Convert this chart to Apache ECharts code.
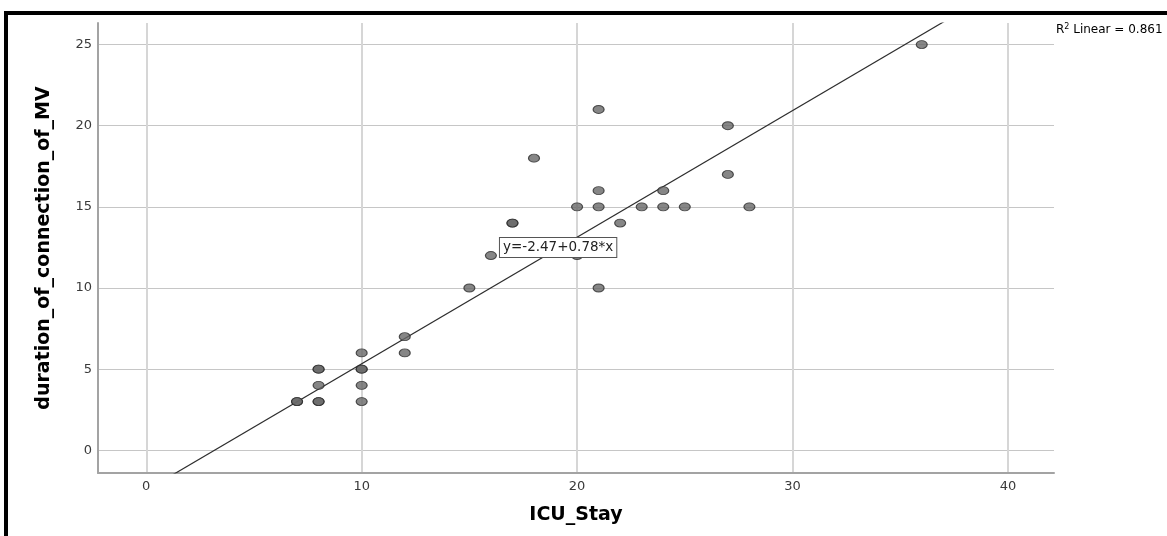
<!DOCTYPE html>
<html>
<head>
<meta charset="utf-8">
<script src="https://cdn.jsdelivr.net/npm/echarts@6/dist/echarts.min.js"></script>
<style>
  html, body { margin: 0; padding: 0; background: #fff; }
  #chart { position: absolute; left: 0; top: 0; width: 1167px; height: 536px; }
  #frame { position: absolute; left: 4px; top: 11px; width: 1163px; height: 525px;
           border-top: 4px solid #000; border-left: 4px solid #000; box-sizing: border-box; pointer-events: none; }
</style>
</head>
<body>
<div id="chart"></div>
<div id="frame"></div>
<script>
// ---- data ----
const icuStay    = [7, 7, 8, 8, 8, 8, 8, 10, 10, 10, 10, 10, 12, 12, 15, 16, 17, 17, 18, 20, 20, 21, 21, 21, 21, 22, 23, 24, 24, 25, 27, 27, 28, 36];
const mvDuration = [3, 3, 3, 3, 4, 5, 5, 3, 4, 5, 5, 6, 6, 7, 10, 12, 14, 14, 18, 15, 12, 21, 16, 15, 10, 14, 15, 16, 15, 15, 20, 17, 15, 25];
const xTicks = [0, 10, 20, 30, 40];
const yTicks = [0, 5, 10, 15, 20, 25];
const fitIntercept = -2.47;
const fitSlope = 0.78;
const fitLabel = 'y=-2.47+0.78*x';
const r2Text = '0.861';
const xName = 'ICU_Stay';
const yName = 'duration_of_connection_of_MV';

const xMin = -2.24, xMax = 42.14, yMin = -1.4, yMax = 26.33;

const points = icuStay.map((x, i) => [x, mvDuration[i]]);
const fitLine = [xMin, xMax].map(x => [x, fitIntercept + fitSlope * x]);

const chart = echarts.init(document.getElementById('chart'), null, { renderer: 'canvas' });
const fontFam = '"DejaVu Sans", Arial, sans-serif';

chart.setOption({
  animation: false,
  backgroundColor: '#ffffff',
  grid: { left: 98, right: 113, top: 23, bottom: 63, containLabel: false },
  xAxis: {
    type: 'value', min: xMin, max: xMax,
    name: xName, nameLocation: 'middle', nameGap: 33,
    nameTextStyle: { fontFamily: fontFam, fontWeight: 'bold', fontSize: 19, color: '#000' },
    axisLine: { show: true, onZero: false, lineStyle: { color: '#a3a3a3', width: 2 } },
    axisTick: { show: false, customValues: xTicks },
    axisLabel: { customValues: xTicks, margin: 7, color: '#3a3a3a', fontFamily: fontFam, fontSize: 13 },
    splitLine: { show: true, lineStyle: { color: '#d6d6d6', width: 2 } }
  },
  yAxis: {
    type: 'value', min: yMin, max: yMax,
    name: yName, nameLocation: 'middle', nameGap: 44, nameRotate: 90,
    nameTextStyle: { fontFamily: fontFam, fontWeight: 'bold', fontSize: 19, color: '#000' },
    axisLine: { show: true, onZero: false, lineStyle: { color: '#a3a3a3', width: 2 } },
    axisTick: { show: false, customValues: yTicks },
    axisLabel: { customValues: yTicks, margin: 6, color: '#3a3a3a', fontFamily: fontFam, fontSize: 13 },
    splitLine: { show: true, lineStyle: { color: '#c6c6c6', width: 1 } }
  },
  series: [
    {
      type: 'line',
      data: fitLine,
      clip: true,
      symbol: 'none',
      silent: true,
      lineStyle: { color: '#2e2e2e', width: 1.2 },
      z: 2,
      markPoint: {
        symbol: 'circle', symbolSize: 0,
        data: [{ coord: [16.42, 12.49], value: fitLabel }],
        label: {
          show: true, position: 'right', distance: 0,
          formatter: fitLabel,
          fontFamily: fontFam, fontSize: 13.5, color: '#222',
          backgroundColor: '#fff', borderColor: '#555', borderWidth: 1,
          padding: [3, 3, 2, 3]
        },
        z: 5
      }
    },
    {
      type: 'scatter',
      data: points,
      symbol: 'circle',
      symbolSize: [11, 8],
      itemStyle: { color: '#686868', borderColor: '#2b2b2b', borderWidth: 1 },
      z: 3
    }
  ],
  graphic: [
    {
      type: 'text', left: 1056, top: 23,
      style: {
        text: '{a|R}{s|2}{a| Linear = ' + r2Text + '}',
        rich: {
          a: { fontFamily: fontFam, fontSize: 12, color: '#111' },
          s: { fontFamily: fontFam, fontSize: 8, color: '#111', padding: [0, 0, 6, 0] }
        }
      }
    }
  ]
});
</script>
</body>
</html>
